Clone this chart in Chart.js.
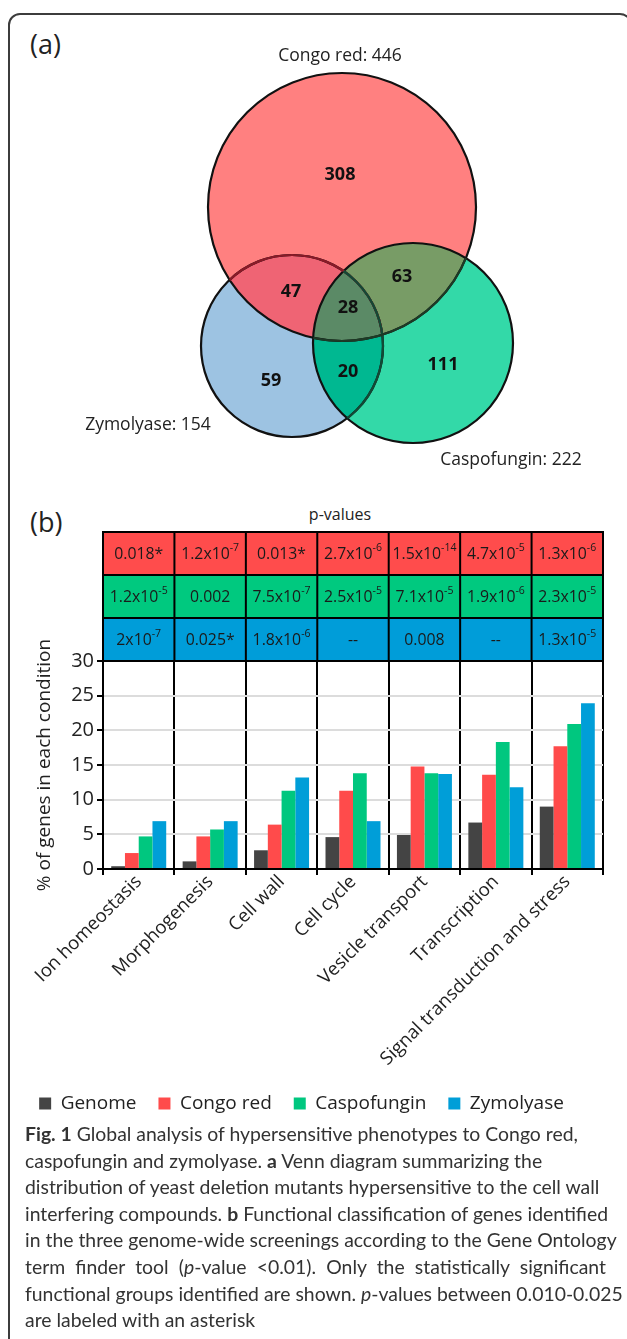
<!DOCTYPE html>
<html>
<head>
<meta charset="utf-8">
<script src="https://cdn.jsdelivr.net/npm/chart.js@4.4.1/dist/chart.umd.min.js"></script>
<style>
  html, body { margin: 0; padding: 0; background: #fff; }
  body { width: 627px; height: 1339px; position: relative; overflow: hidden; font-family: "Open Sans", sans-serif; color: #222; }
  .frame { position: absolute; left: 8px; top: 13px; width: 624px; height: 1400px; box-sizing: border-box; border: 2px solid #3c3c3c; border-radius: 12px; }
  .panel { position: absolute; left: 30px; font-size: 27px; line-height: 1; }
  #venn-wrap { position: absolute; left: 0; top: 0; }
  #bars-wrap { position: absolute; left: 0; top: 490px; }
  .pv { position: absolute; top: 503px; left: 0; width: 680px; text-align: center; font-size: 16px; }
  .caption { position: absolute; left: 25px; top: 1121px; font-family: Lato, sans-serif; font-size: 19.4px; line-height: 26.6px; color: #333; }
  .caption div { white-space: nowrap; }
  .caption .just { white-space: normal; width: 581px; text-align: justify; text-align-last: justify; }
</style>
</head>
<body>
<div class="frame"></div>
<div class="panel" style="top:30px">(a)</div>
<div class="panel" style="top:508px">(b)</div>
<div class="pv">p-values</div>
<div id="venn-wrap"><canvas id="venn" width="627" height="490"></canvas></div>
<div id="bars-wrap"><canvas id="bars" width="627" height="639"></canvas></div>
<div class="caption">
  <div><b>Fig. 1</b> Global analysis of hypersensitive phenotypes to Congo red,</div>
  <div>caspofungin and zymolyase. <b>a</b> Venn diagram summarizing the</div>
  <div>distribution of yeast deletion mutants hypersensitive to the cell wall</div>
  <div>interfering compounds. <b>b</b> Functional classification of genes identified</div>
  <div>in the three genome-wide screenings according to the Gene Ontology</div>
  <div class="just">term finder tool (<i>p</i>-value &lt;0.01). Only the statistically significant</div>
  <div>functional groups identified are shown. <i>p</i>-values between 0.010-0.025</div>
  <div>are labeled with an asterisk</div>
</div>
<script>
// venn counts
const vennSets = ["Congo red", "Zymolyase", "Caspofungin"];
const vennTotals = [446, 154, 222];
const vennRegions = ["Congo red only", "Congo red + Zymolyase", "Congo red + Caspofungin",
  "all three", "Zymolyase only", "Zymolyase + Caspofungin", "Caspofungin only"];
const vennCounts = [308, 47, 63, 28, 59, 20, 111];

// bar chart
const categories = ["Ion homeostasis", "Morphogenesis", "Cell wall", "Cell cycle",
  "Vesicle transport", "Transcription", "Signal transduction and stress"];
const genome = [0.4, 1.1, 2.7, 4.6, 4.9, 6.7, 9.0];
const congoRed = [2.3, 4.7, 6.4, 11.3, 14.8, 13.6, 17.7];
const caspofungin = [4.7, 5.7, 11.3, 13.8, 13.8, 18.3, 20.9];
const zymolyase = [6.9, 6.9, 13.2, 6.9, 13.7, 11.8, 23.9];
const yTicks = [0, 5, 10, 15, 20, 25, 30];

// p-value table, "^" marks the exponent
const pCongoRed = ["0.018*", "1.2x10^-7", "0.013*", "2.7x10^-6", "1.5x10^-14", "4.7x10^-5", "1.3x10^-6"];
const pCaspofungin = ["1.2x10^-5", "0.002", "7.5x10^-7", "2.5x10^-5", "7.1x10^-5", "1.9x10^-6", "2.3x10^-5"];
const pZymolyase = ["2x10^-7", "0.025*", "1.8x10^-6", "--", "0.008", "--", "1.3x10^-5"];

// venn layout, in canvas pixels (order: Congo red, Zymolyase, Caspofungin)
const vennCircles = [{x: 342, y: 207, r: 134}, {x: 292, y: 346, r: 91}, {x: 413, y: 343, r: 100}];
const vennCountPos = [[340, 175], [291, 292], [402, 277], [348, 308], [271, 381], [348, 372], [443, 365]];
const vennTitlePos = [[340, 56], [148, 425], [511, 460]];

const FONT = "'Open Sans', sans-serif";

function circlePath(ctx, c) {
  ctx.beginPath();
  ctx.arc(c.x, c.y, c.r, 0, Math.PI * 2);
}

const vennPlugin = {
  id: "venn",
  afterDatasetsDraw(chart) {
    const ctx = chart.ctx;
    const {x, y} = chart.scales;
    const els = chart.getDatasetMeta(0).data.map((el) => ({x: el.x, y: el.y, r: el.options.radius}));
    const [red, blue, green] = els;

    function overlap(clips, fill, color) {
      ctx.save();
      clips.forEach((c) => { circlePath(ctx, c); ctx.clip(); });
      circlePath(ctx, fill);
      ctx.fillStyle = color;
      ctx.fill();
      ctx.restore();
    }
    overlap([red], blue, "#ef6474");
    overlap([red], green, "#789c66");
    overlap([blue], green, "#00b891");
    overlap([red, blue], green, "#5b8a66");

    function outline(c, color, clips) {
      ctx.save();
      (clips || []).forEach((k) => { circlePath(ctx, k); ctx.clip(); });
      circlePath(ctx, c);
      ctx.lineWidth = 2.2;
      ctx.strokeStyle = color;
      ctx.stroke();
      ctx.restore();
    }
    outline(blue, "#111");
    outline(red, "#111");
    outline(green, "#111");
    outline(blue, "#8a1a28", [red]);
    outline(blue, "#124a36", [green]);
    outline(red, "#1d3a26", [green]);

    ctx.save();
    ctx.fillStyle = "#111";
    ctx.textAlign = "center";
    ctx.textBaseline = "middle";
    ctx.font = "bold 18px " + FONT;
    vennCounts.forEach((n, i) => {
      ctx.fillText(String(n), x.getPixelForValue(vennCountPos[i][0]), y.getPixelForValue(vennCountPos[i][1]));
    });
    ctx.font = "17.5px " + FONT;
    ctx.fillStyle = "#222";
    vennSets.forEach((s, i) => {
      ctx.fillText(s + ": " + vennTotals[i], x.getPixelForValue(vennTitlePos[i][0]), y.getPixelForValue(vennTitlePos[i][1]));
    });
    ctx.restore();
  }
};

new Chart(document.getElementById("venn"), {
  type: "bubble",
  data: {
    datasets: [{
      label: "sets",
      data: vennCircles,
      backgroundColor: ["#ff8080", "#9dc3e2", "#33d9a8"],
      borderWidth: 0,
      hoverRadius: 0,
      clip: false
    }]
  },
  options: {
    responsive: false,
    animation: false,
    events: [],
    layout: {padding: 0, autoPadding: false},
    plugins: {legend: {display: false}, tooltip: {enabled: false}},
    scales: {
      x: {type: "linear", min: 0, max: 627, display: false},
      y: {type: "linear", min: 0, max: 490, reverse: true, display: false}
    }
  },
  plugins: [vennPlugin]
});

function drawPValue(ctx, txt, cx, cy) {
  const parts = txt.split("^");
  ctx.font = "15.8px " + FONT;
  const w1 = ctx.measureText(parts[0]).width;
  let w2 = 0;
  if (parts[1]) {
    ctx.font = "10.5px " + FONT;
    w2 = ctx.measureText(parts[1]).width;
  }
  const left = cx - (w1 + w2) / 2;
  ctx.textAlign = "left";
  ctx.textBaseline = "middle";
  ctx.font = "15.8px " + FONT;
  ctx.fillText(parts[0], left, cy);
  if (parts[1]) {
    ctx.font = "10.5px " + FONT;
    ctx.fillText(parts[1], left + w1, cy - 6);
  }
}

const tablePlugin = {
  id: "ptable",
  afterDraw(chart) {
    const ctx = chart.ctx;
    const {x, y} = chart.scales;
    const bottom = y.getPixelForValue(30);
    const rowH = 43;
    const half = (x.getPixelForValue(1) - x.getPixelForValue(0)) / 2;
    const rows = [[pCongoRed, "#ff4c4c"], [pCaspofungin, "#00c97f"], [pZymolyase, "#009dd9"]];
    const top = bottom - rows.length * rowH;
    ctx.save();
    rows.forEach(([vals, color], r) => {
      const ry = top + r * rowH;
      vals.forEach((v, i) => {
        const cx = x.getPixelForValue(i);
        ctx.fillStyle = color;
        ctx.fillRect(cx - half, ry, half * 2, rowH);
        ctx.fillStyle = "#1a1a1a";
        drawPValue(ctx, v, cx, ry + rowH / 2 + 1);
      });
    });
    ctx.strokeStyle = "#000";
    ctx.lineWidth = 2;
    const left = x.getPixelForValue(0) - half;
    const right = x.getPixelForValue(categories.length - 1) + half;
    ctx.beginPath();
    for (let r = 0; r <= rows.length; r++) {
      ctx.moveTo(left - 1, top + r * rowH);
      ctx.lineTo(right + 1, top + r * rowH);
    }
    for (let i = 0; i <= categories.length; i++) {
      const xx = x.getPixelForValue(0) - half + i * half * 2;
      ctx.moveTo(xx, top);
      ctx.lineTo(xx, bottom);
    }
    ctx.stroke();
    ctx.restore();
  }
};

new Chart(document.getElementById("bars"), {
  type: "bar",
  data: {
    labels: categories,
    datasets: [
      {label: "Genome", data: genome, backgroundColor: "#444444"},
      {label: "Congo red", data: congoRed, backgroundColor: "#ff4b4b"},
      {label: "Caspofungin", data: caspofungin, backgroundColor: "#00c77f"},
      {label: "Zymolyase", data: zymolyase, backgroundColor: "#009ed8"}
    ]
  },
  options: {
    responsive: false,
    animation: false,
    events: [],
    layout: {padding: {top: 171, right: 24, left: 0, bottom: 6}},
    datasets: {bar: {categoryPercentage: 0.77, barPercentage: 1, borderWidth: 0}},
    plugins: {
      tooltip: {enabled: false},
      legend: {
        position: "bottom",
        labels: {boxWidth: 12, boxHeight: 12, padding: 22, color: "#222", font: {family: FONT, size: 19}}
      }
    },
    scales: {
      x: {
        grid: {offset: true, color: "#000", lineWidth: 2, tickLength: 6, tickColor: "#000"},
        border: {color: "#000", width: 2},
        ticks: {color: "#222", font: {family: FONT, size: 18.5}, minRotation: 45, maxRotation: 45, padding: -4},
        afterFit(s) { s.height = 203; }
      },
      y: {
        min: 0,
        max: 30,
        afterBuildTicks(s) { s.ticks = yTicks.map((v) => ({value: v})); },
        ticks: {color: "#222", font: {family: FONT, size: 20}, padding: 3},
        grid: {color: "#dcdcdc", lineWidth: 2, tickColor: "#000", tickLength: 6},
        border: {color: "#000", width: 2},
        title: {display: true, text: "% of genes in each condition", color: "#222",
          font: {family: FONT, size: 19}, padding: {top: 33, bottom: 0}},
        afterFit(s) { s.width = 103; }
      }
    }
  },
  plugins: [tablePlugin]
});
</script>
</body>
</html>
